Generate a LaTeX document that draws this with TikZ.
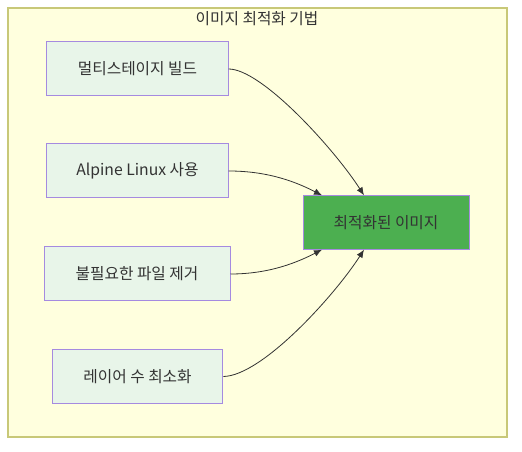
\documentclass[tikz,border=0pt]{standalone}
\usepackage{fontspec}
\setmainfont{Noto Sans CJK KR}
\usetikzlibrary{arrows.meta}
\definecolor{framefill}{HTML}{FFFFDE}
\definecolor{frameline}{HTML}{C8C878}
\definecolor{boxfill}{HTML}{E8F5E9}
\definecolor{boxline}{HTML}{A58AE0}
\definecolor{goalfill}{HTML}{4CAF50}
\definecolor{txt}{HTML}{333333}
\tikzset{
  stepbox/.style={draw=boxline, fill=boxfill, line width=0.75pt, inner sep=0pt,
    text=txt, font=\fontsize{11.8pt}{13pt}\selectfont},
  goalbox/.style={draw=boxline, fill=goalfill, line width=0.75pt, inner sep=0pt,
    text=txt, font=\fontsize{11.8pt}{13pt}\selectfont},
  link/.style={draw=txt, line width=0.6pt, -{Latex[length=6pt,width=5pt]}}
}
\begin{document}
\begin{tikzpicture}[x=0.75pt,y=-0.75pt]
\useasboundingbox (0,0) rectangle (522,452);
\fill[white] (0,0) rectangle (522,452);
\draw[fill=framefill, draw=frameline, line width=0.9pt] (8,8) rectangle (507,437);
\node[text=txt, font=\fontsize{11.8pt}{13pt}\selectfont] (t) at (257,19) {이미지 최적화 기법};
\node[stepbox, minimum width=136pt, minimum height=40.5pt] (a) at (137.5,69) {멀티스테이지 빌드};
\node[stepbox, minimum width=136pt, minimum height=40.5pt] (b) at (137.5,171) {Alpine Linux 사용};
\node[stepbox, minimum width=139.5pt, minimum height=40.5pt] (c) at (137,274) {불필요한 파일 제거};
\node[stepbox, minimum width=128pt, minimum height=40pt] (d) at (137.5,376.5) {레이어 수 최소화};
\node[goalbox, minimum width=124.5pt, minimum height=40pt] (e) at (386,222.5) {최적화된 이미지};
\draw[link] (a.east) .. controls (262,69) and (335,150) .. ([xshift=-16.5pt]e.north);
\draw[link] (b.east) .. controls (270,171) and (298,183) .. ([xshift=-48pt]e.north);
\draw[link] (c.east) .. controls (270,274) and (298,262) .. ([xshift=-48pt]e.south);
\draw[link] (d.east) .. controls (262,376) and (335,295) .. ([xshift=-16.5pt]e.south);
\end{tikzpicture}
\end{document}
